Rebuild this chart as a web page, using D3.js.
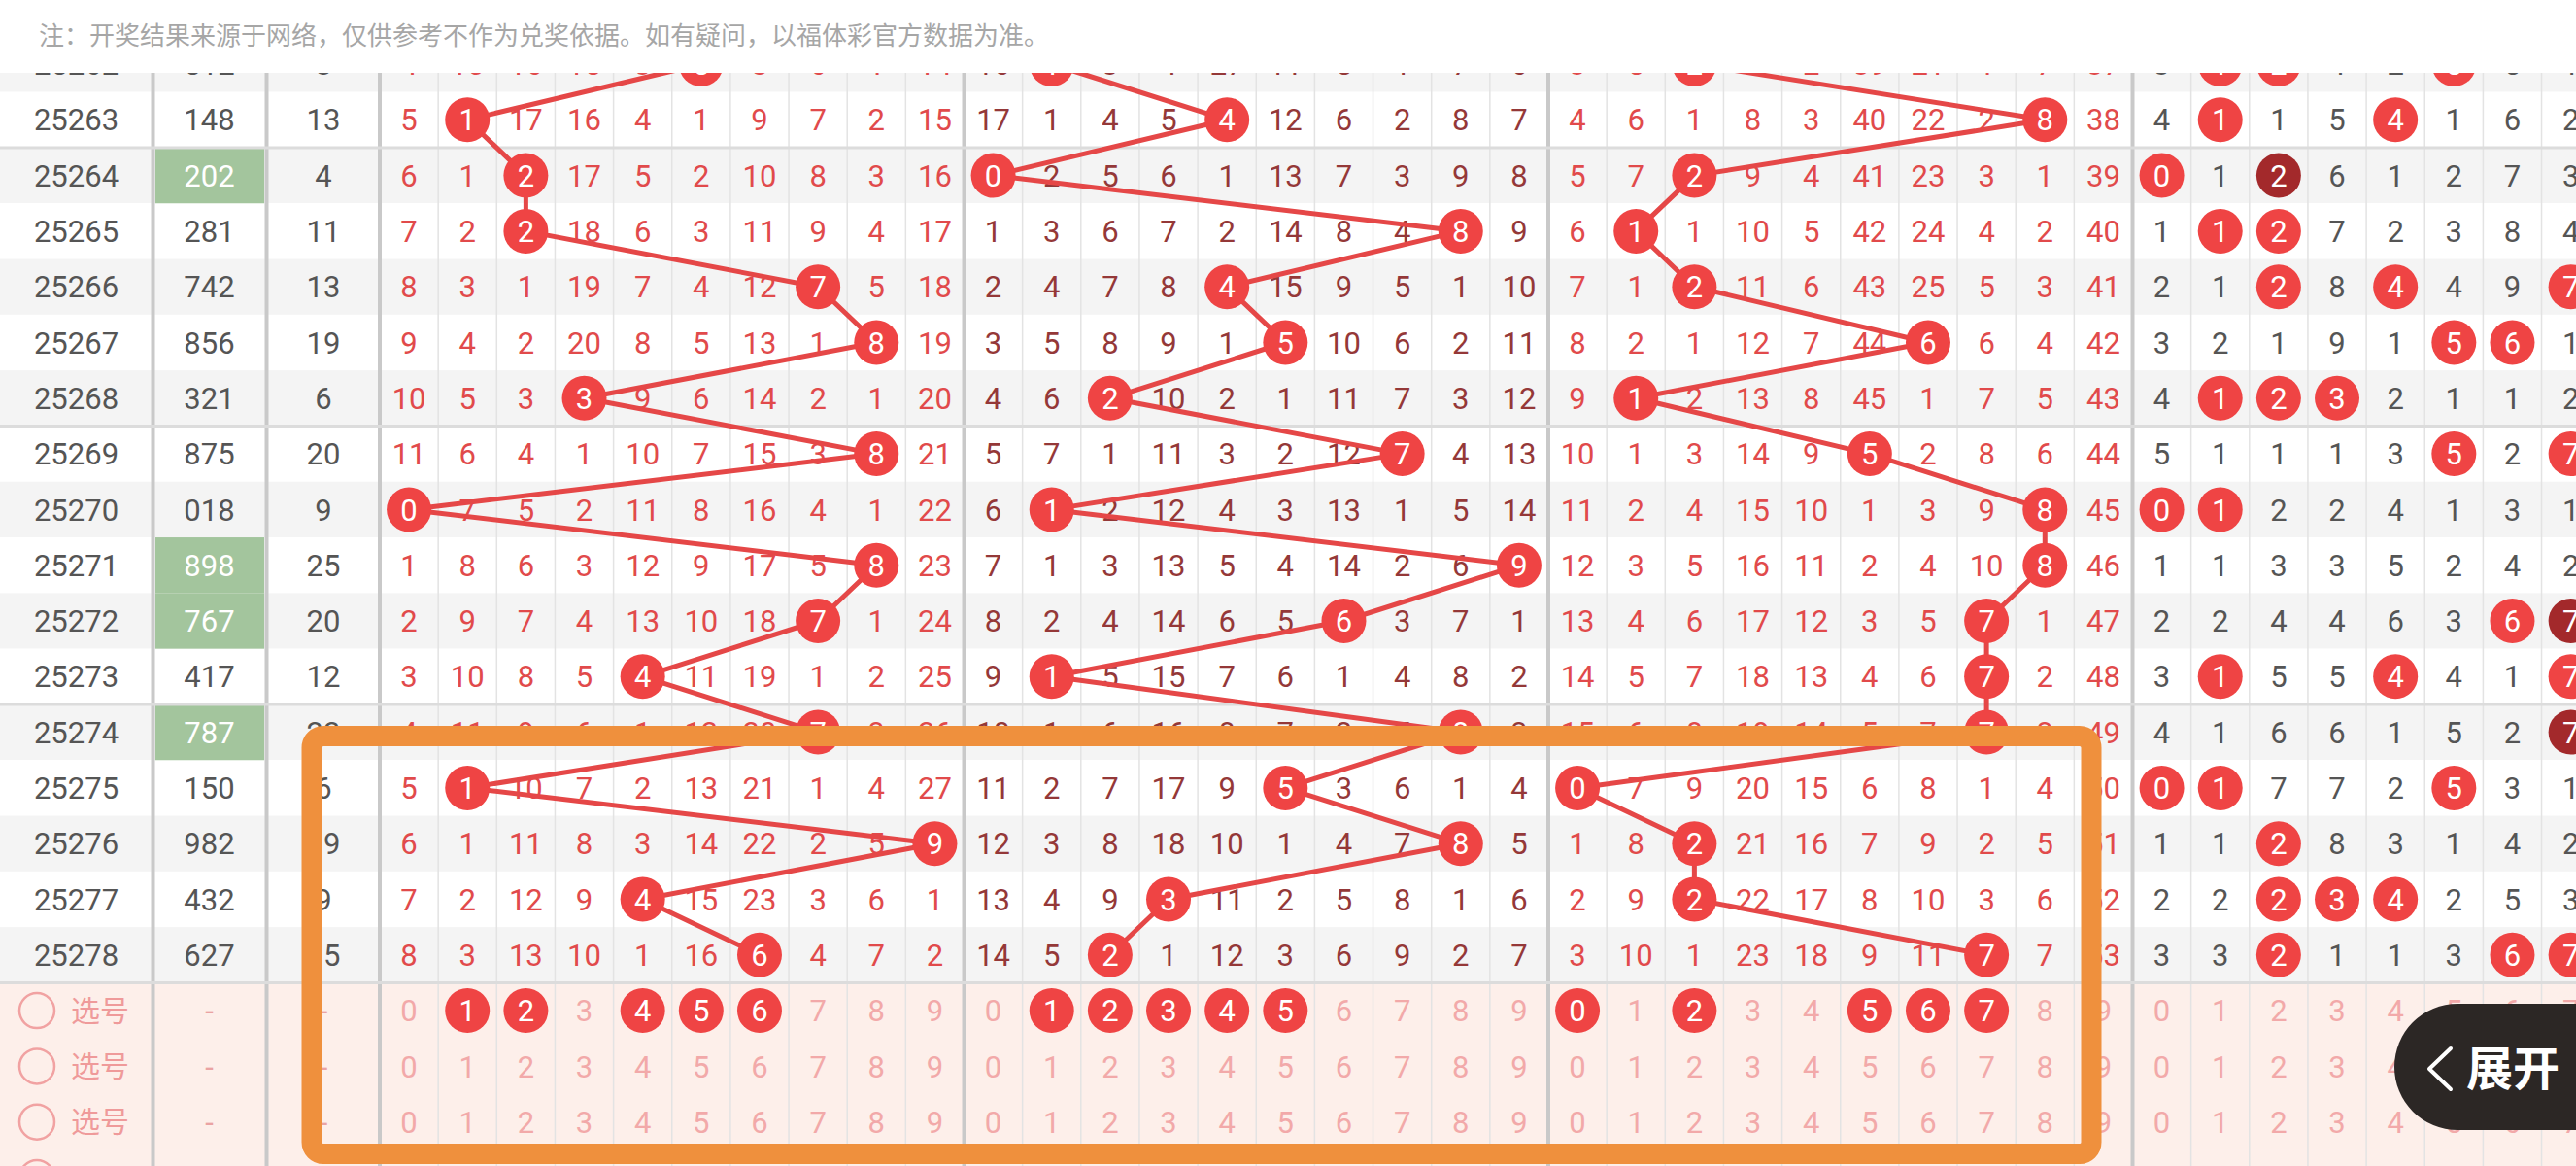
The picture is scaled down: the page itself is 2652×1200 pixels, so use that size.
<!DOCTYPE html>
<html><head><meta charset="utf-8">
<script src="https://cdn.jsdelivr.net/npm/d3@7"></script>
<style>
html,body{margin:0;padding:0;background:#fff;overflow:hidden;}
svg{display:block;}
</style></head><body>
<svg id="chart" width="2652" height="1200"></svg>
<script>
// ---------------- data ----------------
const issues = ["25262","25263","25264","25265","25266","25267","25268","25269","25270","25271","25272","25273","25274","25275","25276","25277","25278"];
const results = ["512","148","202","281","742","856","321","875","018","898","767","417","787","150","982","432","627"];
const sums = [8,13,4,11,13,19,6,20,9,25,20,12,22,6,19,9,15];
// miss counts (0 = hit, drawn as a ball with the column digit)
const hundredsMiss = [
 [4,10,16,15,3,0,8,6,1,14],
 [5,0,17,16,4,1,9,7,2,15],
 [6,1,0,17,5,2,10,8,3,16],
 [7,2,0,18,6,3,11,9,4,17],
 [8,3,1,19,7,4,12,0,5,18],
 [9,4,2,20,8,5,13,1,0,19],
 [10,5,3,0,9,6,14,2,1,20],
 [11,6,4,1,10,7,15,3,0,21],
 [0,7,5,2,11,8,16,4,1,22],
 [1,8,6,3,12,9,17,5,0,23],
 [2,9,7,4,13,10,18,0,1,24],
 [3,10,8,5,0,11,19,1,2,25],
 [4,11,9,6,1,12,20,0,3,26],
 [5,0,10,7,2,13,21,1,4,27],
 [6,1,11,8,3,14,22,2,5,0],
 [7,2,12,9,0,15,23,3,6,1],
 [8,3,13,10,1,16,0,4,7,2]
];
const tensMiss = [
 [16,0,3,4,27,11,5,1,7,6],
 [17,1,4,5,0,12,6,2,8,7],
 [0,2,5,6,1,13,7,3,9,8],
 [1,3,6,7,2,14,8,4,0,9],
 [2,4,7,8,0,15,9,5,1,10],
 [3,5,8,9,1,0,10,6,2,11],
 [4,6,0,10,2,1,11,7,3,12],
 [5,7,1,11,3,2,12,0,4,13],
 [6,0,2,12,4,3,13,1,5,14],
 [7,1,3,13,5,4,14,2,6,0],
 [8,2,4,14,6,5,0,3,7,1],
 [9,0,5,15,7,6,1,4,8,2],
 [10,1,6,16,8,7,2,5,0,3],
 [11,2,7,17,9,0,3,6,1,4],
 [12,3,8,18,10,1,4,7,0,5],
 [13,4,9,0,11,2,5,8,1,6],
 [14,5,0,1,12,3,6,9,2,7]
];
const unitsMiss = [
 [3,5,0,7,2,39,21,1,7,37],
 [4,6,1,8,3,40,22,2,0,38],
 [5,7,0,9,4,41,23,3,1,39],
 [6,0,1,10,5,42,24,4,2,40],
 [7,1,0,11,6,43,25,5,3,41],
 [8,2,1,12,7,44,0,6,4,42],
 [9,0,2,13,8,45,1,7,5,43],
 [10,1,3,14,9,0,2,8,6,44],
 [11,2,4,15,10,1,3,9,0,45],
 [12,3,5,16,11,2,4,10,0,46],
 [13,4,6,17,12,3,5,0,1,47],
 [14,5,7,18,13,4,6,0,2,48],
 [15,6,8,19,14,5,7,0,3,49],
 [0,7,9,20,15,6,8,1,4,50],
 [1,8,0,21,16,7,9,2,5,51],
 [2,9,0,22,17,8,10,3,6,52],
 [3,10,1,23,18,9,11,0,7,53]
];
// digit distribution (only the visible columns 0-7)
const distMiss = [
 [3,0,0,4,2,0,5,1],
 [4,0,1,5,0,1,6,2],
 [0,1,0,6,1,2,7,3],
 [1,0,0,7,2,3,8,4],
 [2,1,0,8,0,4,9,0],
 [3,2,1,9,1,0,0,1],
 [4,0,0,0,2,1,1,2],
 [5,1,1,1,3,0,2,0],
 [0,0,2,2,4,1,3,1],
 [1,1,3,3,5,2,4,2],
 [2,2,4,4,6,3,0,0],
 [3,0,5,5,0,4,1,0],
 [4,1,6,6,1,5,2,0],
 [0,0,7,7,2,0,3,1],
 [1,1,0,8,3,1,4,2],
 [2,2,0,0,0,2,5,3],
 [3,3,0,1,1,3,0,0]
];
const pickLabel = "选号";
const pickRowCount = 4;          // the 4th row is only peeking in at the bottom edge
const pickSelHundreds = [1,2,4,5,6];
const pickSelTens = [1,2,3,4,5];
const pickSelUnits = [0,2,5,6,7];
const noteText = "注：开奖结果来源于网络，仅供参考不作为兑奖依据。如有疑问，以福体彩官方数据为准。";
const expandText = "展开";

// ---------------- layout ----------------
const W = 2652, H = 1200;
const svg = d3.select("#chart");
const FONT = "Roboto, 'Noto Sans', sans-serif";
const CJK = "'Noto Sans CJK SC', 'Noto Sans', sans-serif";

const pickKeys = d3.range(pickRowCount).map(i => "pick" + i);
const visiblePickKeys = pickKeys.slice(0, 3);
const rowKeys = issues.concat(pickKeys);
const rowH = 57.3;
const y = d3.scaleBand().domain(rowKeys).range([66 - rowH / 2, 66 - rowH / 2 + rowH * rowKeys.length]).padding(0);
const cy = k => y(k) + y.bandwidth() / 2;

const colW = 60.15;
const x = d3.scaleBand().domain(d3.range(40)).range([391, 391 + colW * 40]).padding(0);
const cx = i => x(i) + x.bandwidth() / 2;
const fixedX = d3.scaleOrdinal().domain(["issue", "result", "sum"]).range([78.5, 215.5, 333]);

const sections = [
  { off: 0, data: hundredsMiss, pos: 0, color: "#e14a4b", pick: pickSelHundreds, n: 10, line: true },
  { off: 10, data: tensMiss, pos: 1, color: "#943838", pick: pickSelTens, n: 10, line: true },
  { off: 20, data: unitsMiss, pos: 2, color: "#e14a4b", pick: pickSelUnits, n: 10, line: true },
  { off: 30, data: distMiss, pos: -1, color: "#555555", pick: [], n: 8, line: false }
];

const gBg = svg.append("g");
const gGrid = svg.append("g");
const gText = svg.append("g");
const gLine = svg.append("g");
const gBall = svg.append("g");
const gTop = svg.append("g");

// row backgrounds
gBg.selectAll("rect.row").data(issues).join("rect")
  .attr("x", 0).attr("y", d => y(d)).attr("width", W).attr("height", y.bandwidth())
  .attr("fill", (d, i) => i % 2 === 0 ? "#f4f4f4" : "#ffffff");
gBg.selectAll("rect.pick").data(pickKeys).join("rect")
  .attr("x", 0).attr("y", d => y(d)).attr("width", W).attr("height", y.bandwidth() + 0.5)
  .attr("fill", "#fdefea");
// pair (duplicate digit) result cells
const isPair = r => new Set(r.split("")).size < 3;
gBg.selectAll("rect.pair").data(issues.filter((d, i) => isPair(results[i]))).join("rect")
  .attr("x", 160).attr("y", d => y(d)).attr("width", 112).attr("height", y.bandwidth())
  .attr("fill", "#a3c59d");

// grid
const gridTop = 75, gridBottom = H;
d3.range(41).forEach(i => {
  const xx = x(0) + colW * i;
  const thick = i % 10 === 0;
  gGrid.append("line").attr("x1", xx).attr("x2", xx).attr("y1", gridTop).attr("y2", gridBottom)
    .attr("stroke", thick ? "#c9c9c9" : "#e3e3e3").attr("stroke-width", thick ? 4 : 1.5);
});
[157.5, 274.5].forEach(xx => {
  gGrid.append("line").attr("x1", xx).attr("x2", xx).attr("y1", gridTop).attr("y2", gridBottom)
    .attr("stroke", "#c9c9c9").attr("stroke-width", 4);
});
// group separators every 5 rows
issues.forEach((d, i) => {
  if ((i + 4) % 5 === 0) {
    gGrid.append("line").attr("x1", 0).attr("x2", W).attr("y1", y(d) + y.bandwidth()).attr("y2", y(d) + y.bandwidth())
      .attr("stroke", "#dcdcdc").attr("stroke-width", 3);
  }
});

// left columns text
const fs = 31;
issues.forEach((d, i) => {
  gText.append("text").attr("x", fixedX("issue")).attr("y", cy(d)).attr("dy", "0.36em")
    .attr("text-anchor", "middle").attr("font-family", FONT).attr("font-size", fs).attr("fill", "#555").text(d);
  gText.append("text").attr("x", fixedX("result")).attr("y", cy(d)).attr("dy", "0.36em")
    .attr("text-anchor", "middle").attr("font-family", FONT).attr("font-size", fs)
    .attr("fill", isPair(results[i]) ? "#ffffff" : "#555").text(results[i]);
  gText.append("text").attr("x", fixedX("sum")).attr("y", cy(d)).attr("dy", "0.36em")
    .attr("text-anchor", "middle").attr("font-family", FONT).attr("font-size", fs).attr("fill", "#555").text(sums[i]);
});
pickKeys.forEach(k => {
  gText.append("circle").attr("cx", 38).attr("cy", cy(k)).attr("r", 18)
    .attr("fill", "none").attr("stroke", "#f1a2a2").attr("stroke-width", 2.5);
});
visiblePickKeys.forEach(k => {
  gText.append("text").attr("x", 73).attr("y", cy(k)).attr("dy", "0.35em")
    .attr("font-family", CJK).attr("font-size", 30).attr("fill", "#ef9a9a").text(pickLabel);
  ["result", "sum"].forEach(c => gText.append("text").attr("x", fixedX(c)).attr("y", cy(k)).attr("dy", "0.36em")
    .attr("text-anchor", "middle").attr("font-family", FONT).attr("font-size", fs).attr("fill", "#eaa3a3").text("-"));
});

const ballR = 23;
const ballRed = "#ef4444", ballDark = "#a3292b";

sections.forEach(sec => {
  // miss numbers
  issues.forEach((d, i) => {
    sec.data[i].forEach((v, c) => {
      if (v === 0) return;
      gText.append("text").attr("x", cx(sec.off + c)).attr("y", cy(d)).attr("dy", "0.36em")
        .attr("text-anchor", "middle").attr("font-family", FONT).attr("font-size", fs)
        .attr("fill", sec.color).text(v);
    });
  });
  // pick rows
  visiblePickKeys.forEach((k, pi) => {
    d3.range(sec.n).forEach(c => {
      const sel = pi === 0 && sec.pick.includes(c);
      if (sel) {
        gBall.append("circle").attr("cx", cx(sec.off + c)).attr("cy", cy(k)).attr("r", ballR).attr("fill", ballRed);
        gBall.append("text").attr("x", cx(sec.off + c)).attr("y", cy(k)).attr("dy", "0.36em")
          .attr("text-anchor", "middle").attr("font-family", FONT).attr("font-size", fs).attr("fill", "#fff").text(c);
      } else {
        gText.append("text").attr("x", cx(sec.off + c)).attr("y", cy(k)).attr("dy", "0.36em")
          .attr("text-anchor", "middle").attr("font-family", FONT).attr("font-size", fs)
          .attr("fill", "#f2a9a9").text(c);
      }
    });
  });
  // balls
  const pts = [];
  issues.forEach((d, i) => {
    const digits = results[i].split("").map(Number);
    sec.data[i].forEach((v, c) => {
      if (v !== 0) return;
      const cnt = digits.filter(g => g === c).length;
      const dark = sec.pos < 0 && cnt >= 2;
      gBall.append("circle").attr("cx", cx(sec.off + c)).attr("cy", cy(d)).attr("r", ballR)
        .attr("fill", dark ? ballDark : ballRed);
      gBall.append("text").attr("x", cx(sec.off + c)).attr("y", cy(d)).attr("dy", "0.36em")
        .attr("text-anchor", "middle").attr("font-family", FONT).attr("font-size", fs).attr("fill", "#fff").text(c);
      if (sec.line) pts.push([cx(sec.off + c), cy(d)]);
    });
  });
  if (sec.line) {
    gLine.append("path").attr("d", d3.line()(pts)).attr("fill", "none")
      .attr("stroke", "#e54747").attr("stroke-width", 5).attr("stroke-linejoin", "round");
  }
});

// header note (covers the partial first row)
gTop.append("rect").attr("x", 0).attr("y", 0).attr("width", W).attr("height", 75).attr("fill", "#fff");
gTop.append("text").attr("x", 40).attr("y", 37).attr("dy", "0.36em")
  .attr("font-family", CJK).attr("font-size", 26).attr("fill", "#a6a6a6").text(noteText);

// orange highlight box
gTop.append("rect").attr("x", 321).attr("y", 757.5).attr("width", 1832).attr("height", 430)
  .attr("rx", 12).attr("fill", "none").attr("stroke", "#ef903d").attr("stroke-width", 21);

// expand button
gTop.append("path").attr("d", "M2665,1033 H2530 A65,65 0 0 0 2530,1163 H2665 Z").attr("fill", "#2c2725");
gTop.append("path").attr("d", "M2523,1079 L2501,1100 L2523,1121").attr("fill", "none")
  .attr("stroke", "#fff").attr("stroke-width", 4).attr("stroke-linecap", "round").attr("stroke-linejoin", "round");
gTop.append("text").attr("x", 2539).attr("y", 1100).attr("dy", "0.36em")
  .attr("font-family", CJK).attr("font-weight", 700).attr("font-size", 48).attr("fill", "#fff").text(expandText);
</script>
</body></html>
